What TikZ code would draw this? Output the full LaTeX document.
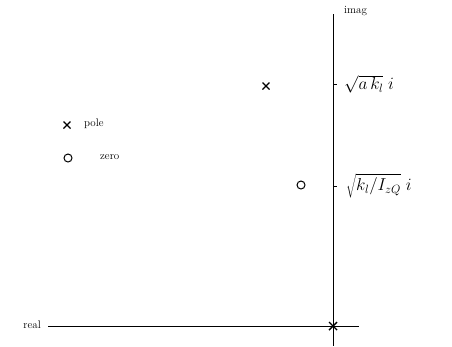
\documentclass[tikz,border=0pt]{standalone}
\usetikzlibrary{calc}
\begin{document}
\begin{tikzpicture}[x=1pt,y=-1pt,
  axis/.style={line width=0.9pt},
  lbl/.style={font=\fontsize{11}{13}\selectfont, inner sep=0pt},
  mlbl/.style={font=\fontsize{18}{21}\selectfont, inner sep=0pt, anchor=west},
  polemark/.style={line width=1.4pt},
  zeromark/.style={circle, draw, line width=1pt, minimum size=8pt, inner sep=0pt}]
\useasboundingbox (0,0) rectangle (452,346);
% axes
\coordinate (vtop) at (333,14);
\coordinate (vbot) at (333,346);
\coordinate (hleft) at (48,326);
\coordinate (hright) at (359,326);
\coordinate (origin) at (333,326);
\draw[axis] (vtop) -- (vbot);
\draw[axis] (hleft) -- (hright);
\node[lbl, anchor=west] (imag) at (344,11) {imag};
\node[lbl, anchor=east] (real) at (41,325) {real};
% ticks and labels
\coordinate (t1) at (333,84);
\coordinate (t2) at (333,186);
\draw[line width=0.6pt] (t1) -- ++(4,0);
\draw[line width=0.6pt] (t2) -- ++(4,0);
\node[mlbl] (l1) at (344,84) {$\sqrt{a\,k_l}\;i$};
\node[mlbl] (l2) at (346,186) {$\sqrt{k_l/I_{zQ}}\;i$};
% pole and zero
\coordinate (p1) at (266,86);
\draw[polemark] ($(p1)+(-3.5,-3.5)$) -- ($(p1)+(3.5,3.5)$) ($(p1)+(-3.5,3.5)$) -- ($(p1)+(3.5,-3.5)$);
\node[zeromark] (z1) at (301,185) {};
\draw[polemark] ($(origin)+(-4,-4)$) -- ($(origin)+(4,4)$) ($(origin)+(-4,4)$) -- ($(origin)+(4,-4)$);
% legend
\coordinate (lp) at (67,125);
\draw[polemark] ($(lp)+(-3.5,-3.5)$) -- ($(lp)+(3.5,3.5)$) ($(lp)+(-3.5,3.5)$) -- ($(lp)+(3.5,-3.5)$);
\node[lbl, anchor=west] (poletxt) at (84,124) {pole};
\node[zeromark] (lz) at (68,158) {};
\node[lbl, anchor=west] (zerotxt) at (100,157) {zero};
\end{tikzpicture}
\end{document}
